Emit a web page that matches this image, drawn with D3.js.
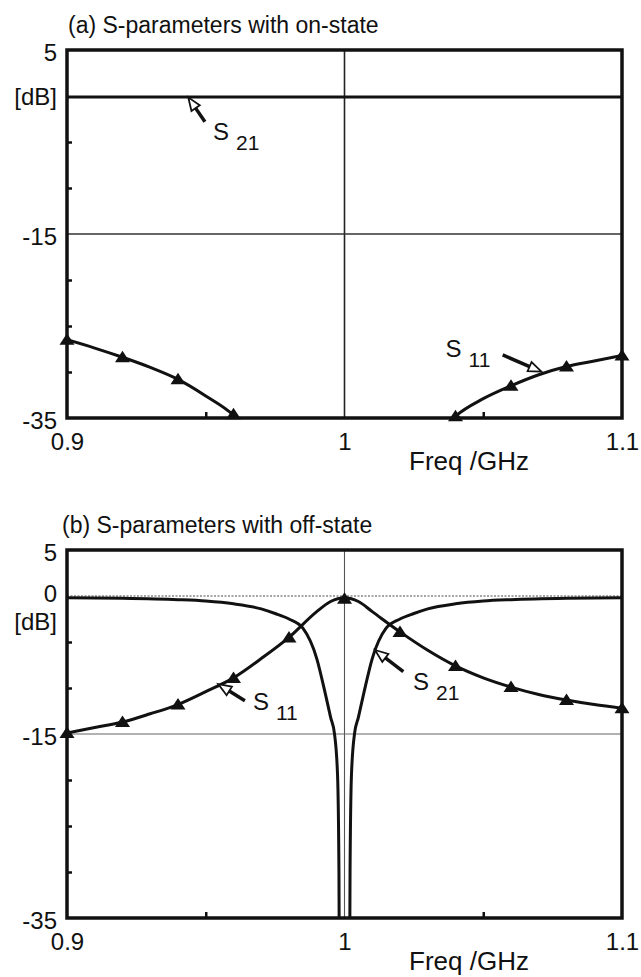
<!DOCTYPE html>
<html><head><meta charset="utf-8">
<script src="https://cdn.jsdelivr.net/npm/d3@7"></script>
<style>
html,body{margin:0;padding:0;background:#fff;}
svg{display:block;}
text{font-family:"Liberation Sans", Arial, Helvetica, sans-serif; fill:#111;}
</style></head><body>
<svg id="chart" width="641" height="977"></svg>
<script>
// ---------- axis ticks ----------
const freqTickValues = [0.9, 1.0, 1.1];
const freqTickLabels = ["0.9", "1", "1.1"];
const freqMinorTicks = [0.95, 1.05];
const dbTickValuesA = [5, -15, -35];
const dbTickLabelsA = ["5", "-15", "-35"];
const dbTickValuesB = [5, 0, -15, -35];
const dbTickLabelsB = ["5", "0", "-15", "-35"];
const dbMinorTicks = [-5, -10, -20, -25, -30];
const gridFreq = [1.0];
const gridDb = [-15];

// ---------- (a) on-state ----------
const onS21Freq = [0.90, 0.95, 1.00, 1.05, 1.10];
const onS21Db   = [-0.1, -0.1, -0.1, -0.1, -0.1];
const onS11LowFreq = [0.90, 0.91, 0.92, 0.93, 0.94, 0.95, 0.96, 0.965, 0.97];
const onS11LowDb   = [-26.5, -27.4, -28.4, -29.5, -30.8, -32.6, -34.7, -36.3, -38.5];
const onS11HighFreq = [1.03, 1.035, 1.04, 1.05, 1.06, 1.07, 1.08, 1.09, 1.10];
const onS11HighDb   = [-38.5, -36.3, -34.8, -32.9, -31.5, -30.3, -29.4, -28.8, -28.2];
const onS11MarkFreq = [0.90, 0.92, 0.94, 0.96, 1.04, 1.06, 1.08, 1.10];
const onS11MarkDb   = [-26.5, -28.4, -30.8, -34.6, -34.8, -31.5, -29.4, -28.2];

// ---------- (b) off-state ----------
const offS11Freq = [0.90, 0.91, 0.92, 0.93, 0.94, 0.95, 0.96, 0.97, 0.98, 0.99, 0.995, 1.00,
                    1.005, 1.01, 1.02, 1.03, 1.04, 1.05, 1.06, 1.07, 1.08, 1.09, 1.10];
const offS11Db   = [-14.9, -14.3, -13.7, -12.8, -11.8, -10.4, -8.9, -6.8, -4.5, -1.7, -0.6, -0.2,
                    -0.6, -1.7, -3.9, -5.9, -7.6, -8.9, -9.9, -10.7, -11.3, -11.8, -12.2];
const offS11MarkFreq = [0.90, 0.92, 0.94, 0.96, 0.98, 1.00, 1.02, 1.04, 1.06, 1.08, 1.10];
const offS11MarkDb   = [-14.9, -13.7, -11.8, -8.9, -4.5, -0.3, -3.9, -7.6, -9.9, -11.3, -12.2];

const offS21LowFreq = [0.90, 0.92, 0.94, 0.95, 0.96, 0.97, 0.975, 0.98, 0.985, 0.99, 0.993, 0.995, 0.9964, 0.9975, 0.998, 0.9982];
const offS21LowDb   = [-0.2, -0.25, -0.4, -0.55, -0.85, -1.4, -1.9, -2.5, -3.5, -6.8, -10.5, -13.2, -15.0, -19.5, -30, -45];
const offS21HighFreq = [1.0018, 1.002, 1.0025, 1.0036, 1.005, 1.007, 1.01, 1.015, 1.02, 1.025, 1.03, 1.04, 1.05, 1.06, 1.08, 1.10];
const offS21HighDb   = [-45, -30, -19.5, -15.0, -13.2, -10.5, -6.8, -3.5, -2.5, -1.9, -1.4, -0.85, -0.55, -0.4, -0.25, -0.2];

// ---------- layout ----------
const svg = d3.select("#chart");
const FONT = '"Liberation Sans", Arial, Helvetica, sans-serif';
const x = d3.scaleLinear().domain([0.9, 1.1]).range([67, 622]);

const panels = [
  { id: "a", top: 50, bottom: 418, title: "(a) S-parameters with on-state", titleX: 68,
    ticks: dbTickValuesA, tickLabels: dbTickLabelsA, dbLabelOffset: 0, zeroDotted: false },
  { id: "b", top: 550, bottom: 918, title: "(b) S-parameters with off-state", titleX: 62,
    ticks: dbTickValuesB, tickLabels: dbTickLabelsB, dbLabelOffset: 25, zeroDotted: true }
];

function triPath(cx, cy) {
  return `M${cx},${cy - 6.5}L${cx + 7.5},${cy + 5}L${cx - 7.5},${cy + 5}Z`;
}

function arrow(g, x1, y1, x2, y2) {
  const dx = x2 - x1, dy = y2 - y1, L = Math.hypot(dx, dy), ux = dx / L, uy = dy / L;
  const hl = 13, hw = 5;
  const bx = x2 - ux * hl, by = y2 - uy * hl;
  g.append("line").attr("x1", x1).attr("y1", y1).attr("x2", bx).attr("y2", by)
    .attr("stroke", "#111").attr("stroke-width", 3.5);
  const px = -uy, py = ux;
  g.append("path")
    .attr("d", `M${x2},${y2}L${bx + px * hw},${by + py * hw}L${bx - px * hw},${by - py * hw}Z`)
    .attr("fill", "#fff").attr("stroke", "#111").attr("stroke-width", 1.8).attr("stroke-linejoin", "miter");
}

function label(g, px, py, sub) {
  const t = g.append("text").attr("x", px).attr("y", py).attr("font-size", 24).attr("font-family", FONT);
  t.append("tspan").text("S");
  t.append("tspan").attr("font-size", 21).attr("dx", 7).attr("dy", 10).text(sub);
}

panels.forEach(p => {
  const y = d3.scaleLinear().domain([5, -35]).range([p.top, p.bottom]);
  p.y = y;
  const g = svg.append("g");

  svg.append("clipPath").attr("id", "clip" + p.id)
    .append("rect").attr("x", x(0.9)).attr("y", p.top).attr("width", x(1.1) - x(0.9)).attr("height", p.bottom - p.top);

  // grid
  g.selectAll(".gx").data(gridFreq).enter().append("line")
    .attr("x1", d => x(d)).attr("x2", d => x(d)).attr("y1", p.top).attr("y2", p.bottom)
    .attr("stroke", p.id === "a" ? "#222" : "#555").attr("stroke-width", p.id === "a" ? 1.6 : 1.1);
  g.selectAll(".gy").data(gridDb).enter().append("line")
    .attr("x1", x(0.9)).attr("x2", x(1.1)).attr("y1", d => y(d)).attr("y2", d => y(d))
    .attr("stroke", p.id === "a" ? "#333" : "#666").attr("stroke-width", p.id === "a" ? 1.4 : 1.1);
  if (p.zeroDotted) {
    g.append("line").attr("x1", x(0.9)).attr("x2", x(1.1)).attr("y1", y(0)).attr("y2", y(0))
      .attr("stroke", "#888").attr("stroke-width", 1.4).attr("stroke-dasharray", "2,1.5");
  }

  // title
  svg.append("text").attr("x", p.titleX).attr("y", p.top - 17).attr("font-size", 23)
    .attr("font-family", FONT).text(p.title);

  // y labels
  const ax = svg.append("g").attr("transform", `translate(${x(0.9)},0)`)
    .call(d3.axisLeft(y).tickValues(p.ticks).tickSize(0).tickPadding(10)
      .tickFormat((d, i) => p.tickLabels[i]));
  ax.select(".domain").remove();
  ax.selectAll("text").attr("font-size", 24).attr("font-family", FONT).attr("fill", "#111").attr("dy", "0.42em");
  ax.selectAll("text").filter(d => d === 0)
    .attr("font-family", '"Liberation Serif", "Times New Roman", serif').attr("dy", "0.22em");
  svg.append("text").attr("x", x(0.9) - 10).attr("y", y(0) + p.dbLabelOffset).attr("dy", "0.36em")
    .attr("text-anchor", "end").attr("font-size", 24).attr("font-family", FONT).text("[dB]");

  // x labels
  const bx = svg.append("g").attr("transform", `translate(0,${p.bottom})`)
    .call(d3.axisBottom(x).tickValues(freqTickValues).tickSize(0).tickPadding(15)
      .tickFormat((d, i) => freqTickLabels[i]));
  bx.select(".domain").remove();
  bx.selectAll("text").attr("font-size", 24).attr("font-family", FONT).attr("fill", "#111");
  svg.append("text").attr("x", 409).attr("y", p.bottom + 52).attr("font-size", 26)
    .attr("font-family", FONT).text("Freq /GHz");

  // minor ticks
  const ml = svg.append("g").attr("transform", `translate(${x(0.9)},0)`)
    .call(d3.axisLeft(y).tickValues(dbMinorTicks).tickSize(-5).tickFormat(""));
  ml.select(".domain").remove();
  ml.selectAll("line").attr("stroke", "#111").attr("stroke-width", 2.5);
  const mb = svg.append("g").attr("transform", `translate(0,${p.bottom})`)
    .call(d3.axisBottom(x).tickValues(freqMinorTicks).tickSize(-6).tickFormat(""));
  mb.select(".domain").remove();
  mb.selectAll("line").attr("stroke", "#111").attr("stroke-width", 2.5);
});

const line = y => d3.line().x(d => x(d[0])).y(d => y(d[1])).curve(d3.curveMonotoneX);

function drawCurve(p, fr, db) {
  svg.append("path").datum(d3.zip(fr, db)).attr("clip-path", `url(#clip${p.id})`)
    .attr("d", line(p.y)).attr("fill", "none").attr("stroke", "#111").attr("stroke-width", 3)
    .attr("stroke-linejoin", "round");
}
function drawMarks(p, fr, db) {
  svg.append("g").selectAll("path").data(d3.zip(fr, db)).enter().append("path")
    .attr("d", d => triPath(x(d[0]), p.y(d[1]))).attr("fill", "#111");
}

const [pa, pb] = panels;
drawCurve(pa, onS21Freq, onS21Db);
drawCurve(pa, onS11LowFreq, onS11LowDb);
drawCurve(pa, onS11HighFreq, onS11HighDb);
drawMarks(pa, onS11MarkFreq, onS11MarkDb);

drawCurve(pb, offS21LowFreq, offS21LowDb);
drawCurve(pb, offS21HighFreq, offS21HighDb);
drawCurve(pb, offS11Freq, offS11Db);
drawMarks(pb, offS11MarkFreq, offS11MarkDb);

// frames
panels.forEach(p => {
  svg.append("rect").attr("x", x(0.9)).attr("y", p.top).attr("width", x(1.1) - x(0.9))
    .attr("height", p.bottom - p.top).attr("fill", "none").attr("stroke", "#111").attr("stroke-width", 3.5);
});

// annotations (data coordinates)
const ann = svg.append("g");
arrow(ann, x(0.9497), pa.y(-2.8), x(0.9437), pa.y(-0.15));
label(ann, x(0.9526), pa.y(-4.8), "21");
arrow(ann, x(1.057), pa.y(-28.15), x(1.071), pa.y(-29.97));
label(ann, x(1.0364), pa.y(-28.4), "11");
arrow(ann, x(0.9641), pb.y(-11.38), x(0.9545), pb.y(-9.57));
label(ann, x(0.967), pb.y(-12.4), "11");
arrow(ann, x(1.0212), pb.y(-8.23), x(1.011), pb.y(-5.87));
label(ann, x(1.0247), pb.y(-10.2), "21");
</script></body></html>
